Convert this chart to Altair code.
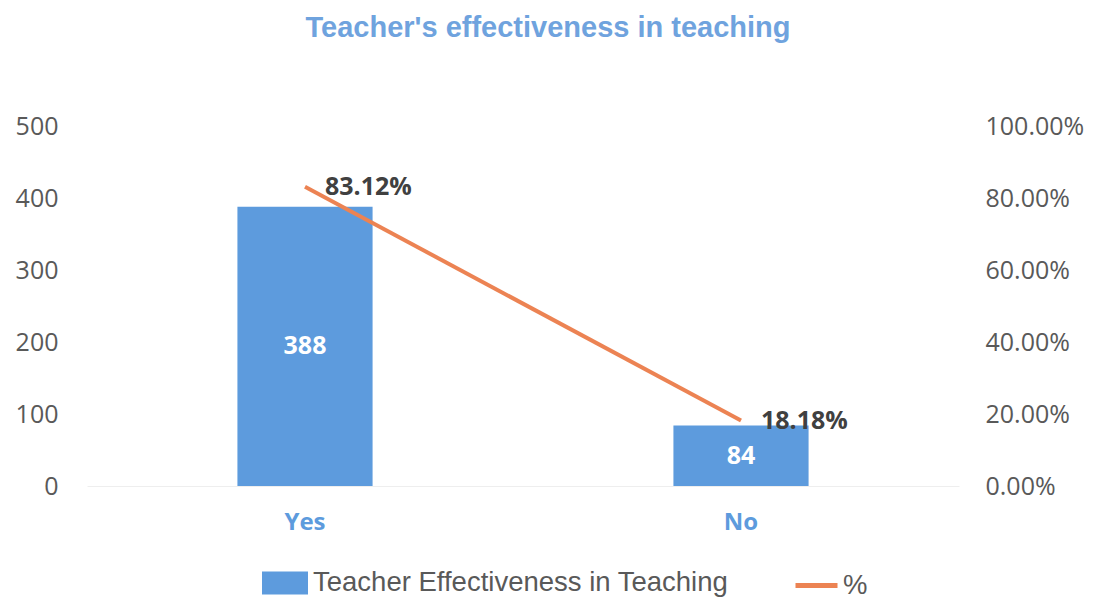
import altair as alt
import pandas as pd

categories = ["Yes", "No"]
counts = [388, 84]
percents = [0.8312, 0.1818]

BLUE = "#5D9BDD"
ORANGE = "#EC8353"
GREY = "#595959"
FONT = "Open Sans"
LEGEND_FONT = "Liberation Sans"
TITLE_FONT = "Liberation Sans"

df = pd.DataFrame({"cat": categories, "count": counts, "pct": percents})

x_enc = alt.X(
    "cat:N",
    sort=categories,
    title=None,
    scale=alt.Scale(paddingInner=0.69, paddingOuter=0.345),
    axis=alt.Axis(
        labelAngle=0,
        labelColor=BLUE,
        labelFont=FONT,
        labelFontSize=24,
        labelFontWeight="bold",
        labelPadding=24,
        ticks=False,
        domain=True,
        domainColor="#eeeeee",
        grid=False,
    ),
)

base = alt.Chart(df).encode(x=x_enc)

left_axis = alt.Axis(
    values=[0, 100, 200, 300, 400, 500],
    labelColor=GREY,
    labelFont=FONT,
    labelFontSize=25,
    labelPadding=29,
    ticks=False,
    domain=False,
    grid=False,
)
left_scale = alt.Scale(domain=[0, 500], nice=False)

right_axis = alt.Axis(
    orient="right",
    values=[0, 0.2, 0.4, 0.6, 0.8, 1.0],
    format=".2%",
    labelColor=GREY,
    labelFont=FONT,
    labelFontSize=25,
    labelPadding=26,
    ticks=False,
    domain=False,
    grid=False,
)
right_scale = alt.Scale(domain=[0, 1], nice=False)

bars = base.mark_bar(color=BLUE).encode(
    y=alt.Y("count:Q", title=None, scale=left_scale, axis=left_axis),
    color=alt.Color(
        "series:N",
        scale=alt.Scale(domain=["Teacher Effectiveness in Teaching"], range=[BLUE]),
        legend=alt.Legend(
            title=None,
            orient="none",
            legendX=175,
            legendY=434,
            symbolType="M-1,-0.5H1V0.5H-1Z",
            symbolSize=2116,
            symbolStrokeWidth=0,
            labelFont=LEGEND_FONT,
            labelFontSize=27.5,
            labelColor=GREY,
            labelOffset=5,
            labelLimit=0,
            padding=0,
        ),
    ),
).transform_calculate(series="'Teacher Effectiveness in Teaching'")

bar_text = base.mark_text(
    color="white", font=FONT, fontSize=25, fontWeight="bold", baseline="middle"
).encode(
    y=alt.Y("mid:Q", title=None, scale=left_scale, axis=left_axis),
    text=alt.Text("count:Q"),
).transform_calculate(mid="datum.count / 2")

line = base.mark_line(strokeWidth=4).encode(
    y=alt.Y("pct:Q", title=None, scale=right_scale, axis=right_axis),
    stroke=alt.Stroke(
        "series2:N",
        scale=alt.Scale(domain=["%"], range=[ORANGE]),
        legend=alt.Legend(
            title=None,
            orient="none",
            legendX=706,
            legendY=436,
            symbolType="stroke",
            symbolSize=1764,
            symbolStrokeWidth=5,
            labelFont=LEGEND_FONT,
            labelFontSize=27.5,
            labelColor=GREY,
            labelOffset=3,
            labelLimit=0,
            padding=0,
        ),
    ),
).transform_calculate(series2="'%'")

line_text = base.mark_text(
    align="left", baseline="middle", dx=20, dy=0,
    color="#404040", font=FONT, fontSize=25, fontWeight="bold"
).encode(
    y=alt.Y("pct:Q", title=None, scale=right_scale, axis=right_axis),
    text=alt.Text("pct:Q", format=".2%"),
)

left = alt.layer(bars, bar_text)
right = alt.layer(line, line_text)

chart = alt.layer(left, right).resolve_scale(
    y="independent", color="independent", stroke="independent"
).properties(
    width=872,
    height=360,
    autosize=alt.AutoSizeParams(type="none"),
    padding={"left": 79, "top": 118, "right": 125, "bottom": 112},
    title=alt.TitleParams(
        "Teacher's effectiveness in teaching",
        font=TITLE_FONT,
        fontSize=29,
        fontWeight="bold",
        color="#6FA3DE",
        anchor="middle",
        dx=25,
        offset=71,
    ),
).configure_view(stroke=None)

chart.save("out.html", embed_options={"renderer": "svg", "actions": False})
